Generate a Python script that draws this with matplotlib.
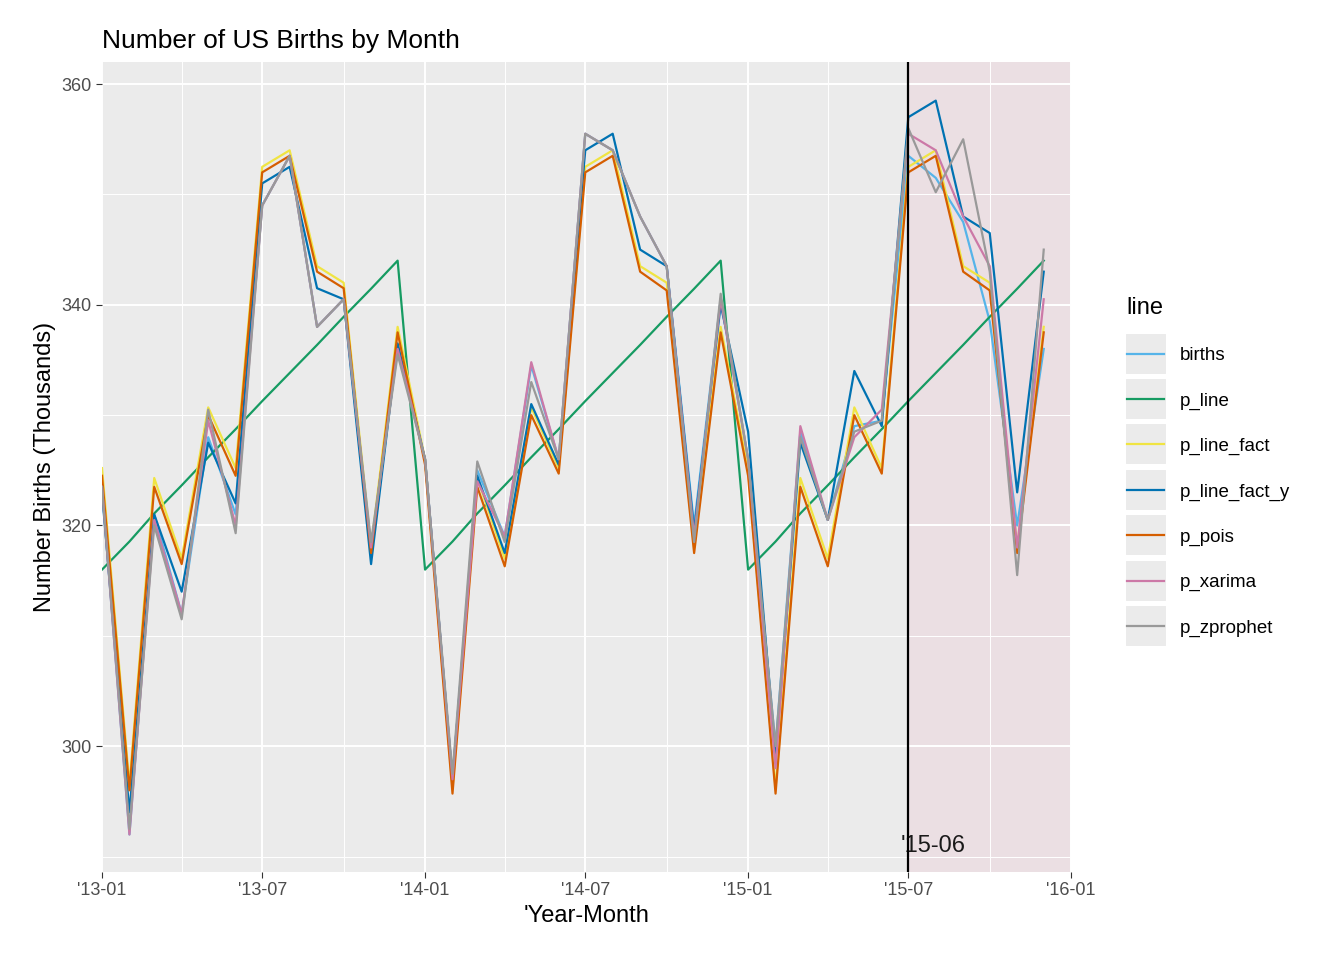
import matplotlib
matplotlib.use("Agg")
import matplotlib.pyplot as plt
import matplotlib.dates as mdates
import matplotlib.patches as mpatches
import numpy as np
import pandas as pd

plt.rcParams['font.family'] = ['Liberation Sans', 'DejaVu Sans']

months = pd.date_range("2013-01-01", "2015-12-01", freq="MS")

births = [323.5, 292, 321, 312, 328, 321, 349, 353.5, 338, 340.5, 318, 336,
          326, 297, 325, 319, 334.5, 326, 355.5, 354, 348, 343.5, 320, 340.5,
          326, 300, 328.5, 320.5, 329, 329.5, 353.5, 351.5, 347.5, 338.5, 320, 336]
p_line = [316 + i * 28 / 11 for i in range(12)] * 3
p_line_fact = [325.2, 296.5, 324.3, 317, 330.7, 325.2, 352.5, 354, 343.5, 342, 318, 338,
               326, 296.2, 324.3, 317, 330.7, 325.2, 352.5, 354, 343.5, 342, 318, 338,
               325, 296.2, 324.3, 317, 330.7, 325.2, 352.5, 354, 343.5, 342, 318, 338]
p_line_fact_y = [323, 294, 321, 314, 327.5, 322, 351, 352.5, 341.5, 340.5, 316.5, 336.5,
                 326, 297, 324.5, 317.5, 331, 325.5, 354, 355.5, 345, 343.5, 319.5, 340,
                 328.5, 299, 327.5, 320.5, 334, 329, 357, 358.5, 348, 346.5, 323, 343]
p_pois = [324.5, 296, 323.5, 316.5, 330, 324.5, 352, 353.5, 343, 341.5, 317.5, 337.5,
          325.5, 295.7, 323.5, 316.3, 330, 324.7, 352, 353.5, 343, 341.3, 317.5, 337.5,
          324.5, 295.7, 323.5, 316.3, 330, 324.7, 352, 353.5, 343, 341.3, 317.5, 337.5]
p_xarima = [323.5, 292, 320.5, 312, 329.5, 320, 349, 353.5, 338, 340.5, 318, 336,
            326, 297, 324, 319, 334.8, 326, 355.5, 354, 348, 343.5, 319, 340.5,
            326, 298, 329, 320.5, 328, 330.5, 355.5, 354, 348, 343.5, 318, 340.5]
p_zprophet = [323.5, 292.5, 320, 311.5, 330.5, 319.3, 349, 353.5, 338, 340.5, 318.5, 335.5,
              326, 297.5, 325.8, 318.5, 333, 326, 355.5, 354, 348, 343.5, 318.5, 341,
              326, 300, 328, 320.5, 328.5, 329.5, 356, 350.2, 355, 343, 315.5, 345]

series = [("births", births, "#56B4E9"), ("p_line", p_line, "#169B62"),
          ("p_line_fact", p_line_fact, "#F0E442"), ("p_line_fact_y", p_line_fact_y, "#0072B2"),
          ("p_pois", p_pois, "#D55E00"), ("p_xarima", p_xarima, "#CC79A7"),
          ("p_zprophet", p_zprophet, "#999999")]

fig = plt.figure(figsize=(13.44, 9.6), dpi=100)
ax = fig.add_axes([0.0759, 0.0917, 0.7211, 0.8437])
ax.set_facecolor("#EBEBEB")
x0, x1 = mdates.date2num(pd.Timestamp("2013-01-01")), mdates.date2num(pd.Timestamp("2016-01-01"))
ax.set_xlim(x0, x1)
ax.set_ylim(288.6, 362)
ax.axvspan(mdates.date2num(pd.Timestamp("2015-07-01")), x1, color="#EBDFE3", zorder=0.5)

xt = pd.date_range("2013-01-01", "2016-01-01", freq="6MS")
ax.set_xticks(mdates.date2num(xt))
ax.set_xticklabels([d.strftime("'%y-%m") for d in xt])
xm = pd.date_range("2013-04-01", "2015-10-01", freq="6MS")
ax.set_xticks(mdates.date2num(xm), minor=True)
ax.set_yticks([300, 320, 340, 360])
ax.set_yticks([290, 310, 330, 350], minor=True)
ax.grid(which="major", color="white", lw=1.4, zorder=1)
ax.grid(which="minor", color="white", lw=0.7, zorder=1)
ax.set_axisbelow(True)
for s in ax.spines.values():
    s.set_visible(False)
ax.tick_params(which="major", length=4, color="#333333", labelsize=13, labelcolor="#4D4D4D")
ax.tick_params(which="minor", length=0)

xs = mdates.date2num(months)
for name, vals, col in series:
    ax.plot(xs, vals, color=col, lw=1.6, label=name, zorder=3)

vx = mdates.date2num(pd.Timestamp("2015-07-01"))
ax.axvline(vx, color="black", lw=1.6, zorder=4)
ax.text(vx + 28, 290.0, "'15-06", fontsize=17, ha="center", va="bottom", color="#1a1a1a")

ax.set_title("Number of US Births by Month", loc="left", fontsize=19, pad=10)
ax.set_xlabel("'Year-Month", fontsize=17)
ax.set_ylabel("Number Births (Thousands)", fontsize=17)

leg = ax.legend(loc="center left", bbox_to_anchor=(1.04, 0.5), frameon=False, title="line",
                fontsize=13.5, title_fontsize=17, handlelength=2.0, labelspacing=1.5)
leg._legend_box.align = "left"
for h in leg.legend_handles:
    h.set_linewidth(1.6)
fig.canvas.draw()
for h in leg.legend_handles:
    bb = h.get_window_extent(fig.canvas.get_renderer())
    cx, cy = (bb.x0 + bb.x1) / 2, (bb.y0 + bb.y1) / 2
    fig.patches.append(mpatches.Rectangle((cx - 21, cy - 21), 42, 42, transform=None,
                                          facecolor="#EBEBEB", edgecolor="white", lw=1.5, zorder=-1))
fig.savefig("out.png", dpi=100)
